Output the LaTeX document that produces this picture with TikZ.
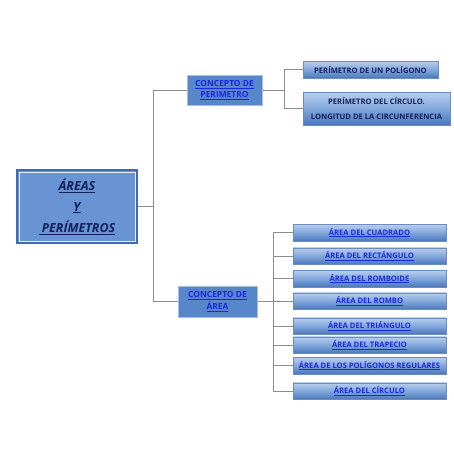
\documentclass[tikz,border=0pt]{standalone}
\usepackage{fontspec}
\setmainfont{Open Sans}
\usetikzlibrary{shadows}
\definecolor{conn}{HTML}{8C8C8C}
\definecolor{mainfill}{HTML}{6894D4}
\definecolor{mainedge}{HTML}{3E6CB2}
\definecolor{navy}{HTML}{14205A}
\definecolor{linkblue}{HTML}{1A28E0}
\definecolor{conceptfill}{HTML}{5886CA}
\definecolor{conceptedge}{HTML}{A9BFE0}
\definecolor{leaftop}{HTML}{B9CFEC}
\definecolor{leafmid}{HTML}{82A7DC}
\definecolor{leafbot}{HTML}{4A78BC}
\definecolor{leafedge}{HTML}{6A8CC0}
\newcommand{\ul}[1]{\underline{#1}}
\tikzset{
  mainbox/.style={draw=mainedge, line width=1.3pt, fill=mainfill, minimum width=120pt, minimum height=73pt, inner sep=0pt, align=center, text=navy, font=\fontsize{12.5}{21}\selectfont\bfseries\itshape},
  conceptbox/.style={draw=conceptedge, line width=1pt, fill=conceptfill, inner sep=0pt, align=center, text=linkblue, font=\fontsize{8.4}{11.5}\selectfont\bfseries, drop shadow={opacity=0.25, shadow xshift=1.2pt, shadow yshift=-1.2pt}},
  leafbox/.style={draw=leafedge, line width=0.5pt, top color=leaftop, bottom color=leafbot, middle color=leafmid, inner sep=0pt, align=center, font=\fontsize{7.6}{15}\selectfont\bfseries, drop shadow={opacity=0.35, shadow xshift=1.2pt, shadow yshift=-1.2pt}},
  arealeaf/.style={leafbox, minimum width=153pt, minimum height=16.5pt, text=linkblue},
  perleaf/.style={leafbox, text=navy},
  connector/.style={draw=conn, line width=0.9pt}
}
\begin{document}
\begin{tikzpicture}[x=1pt,y=-1pt]
\useasboundingbox[fill=white] (0,0) rectangle (453,453);

% main box
\node[mainbox] (main) at (77,206.5) {\ul{ÁREAS}\\ \ul{Y}\\ \ul{\ PERÍMETROS}};
\draw[white!85!mainfill, line width=0.7pt] ([xshift=2.6pt,yshift=-2.6pt]main.north west) rectangle ([xshift=-2.6pt,yshift=2.6pt]main.south east);

% concept boxes
\node[conceptbox, minimum width=75pt, minimum height=30pt] (cper) at (224.5,90) {\ul{CONCEPTO DE}\\ \ul{PERIMETRO}};
\node[conceptbox, minimum width=79pt, minimum height=31pt] (carea) at (217.5,301.5) {\ul{CONCEPTO DE}\\ \ul{ÁREA}};

% perimeter leaves
\node[perleaf, minimum width=135pt, minimum height=17pt] (p1) at (370.5,69.5) {PERÍMETRO DE UN POLÍGONO};
\node[perleaf, minimum width=147pt, minimum height=33pt] (p2) at (376.5,108.5) {PERÍMETRO DEL CÍRCULO.\\ LONGITUD DE LA CIRCUNFERENCIA};

% area leaves
\node[arealeaf] (a1) at (369.5,232.5) {\ul{ÁREA DEL CUADRADO}};
\node[arealeaf] (a2) at (369.5,256) {\ul{ÁREA DEL RECTÁNGULO}};
\node[arealeaf] (a3) at (369.5,278.5) {\ul{ÁREA DEL ROMBOIDE}};
\node[arealeaf] (a4) at (369.5,301) {\ul{ÁREA DEL ROMBO}};
\node[arealeaf] (a5) at (369.5,326) {\ul{ÁREA DEL TRIÁNGULO}};
\node[arealeaf] (a6) at (369.5,345) {\ul{ÁREA DEL TRAPECIO}};
\node[arealeaf] (a7) at (369.5,365.5) {\ul{ÁREA DE LOS POLÍGONOS REGULARES}};
\node[arealeaf] (a8) at (369.5,391) {\ul{ÁREA DEL CÍRCULO}};

% junction coordinates
\coordinate (j0) at (153,206);
\coordinate (j1) at (284,90);
\coordinate (j2) at (273,301);

% connectors from main
\draw[connector] (main.east |- j0) -- (j0);
\draw[connector] (j0 |- cper.west) -- (j0 |- carea.west);
\draw[connector] (j0 |- cper.west) -- (cper.west);
\draw[connector] (j0 |- carea.west) -- (carea.west);

% connectors perimeter
\draw[connector] (cper.east) -- (cper.east -| j1);
\draw[connector] (j1 |- p1.west) -- (j1 |- p2.west);
\draw[connector] (j1 |- p1.west) -- (p1.west);
\draw[connector] (j1 |- p2.west) -- (p2.west);

% connectors area
\draw[connector] (carea.east) -- (carea.east -| j2);
\draw[connector] (j2 |- a1.west) -- (j2 |- a8.west);
\foreach \n in {a1,a2,a3,a4,a5,a6,a7,a8}{
  \draw[connector] (j2 |- \n.west) -- (\n.west);
}
\end{tikzpicture}
\end{document}
